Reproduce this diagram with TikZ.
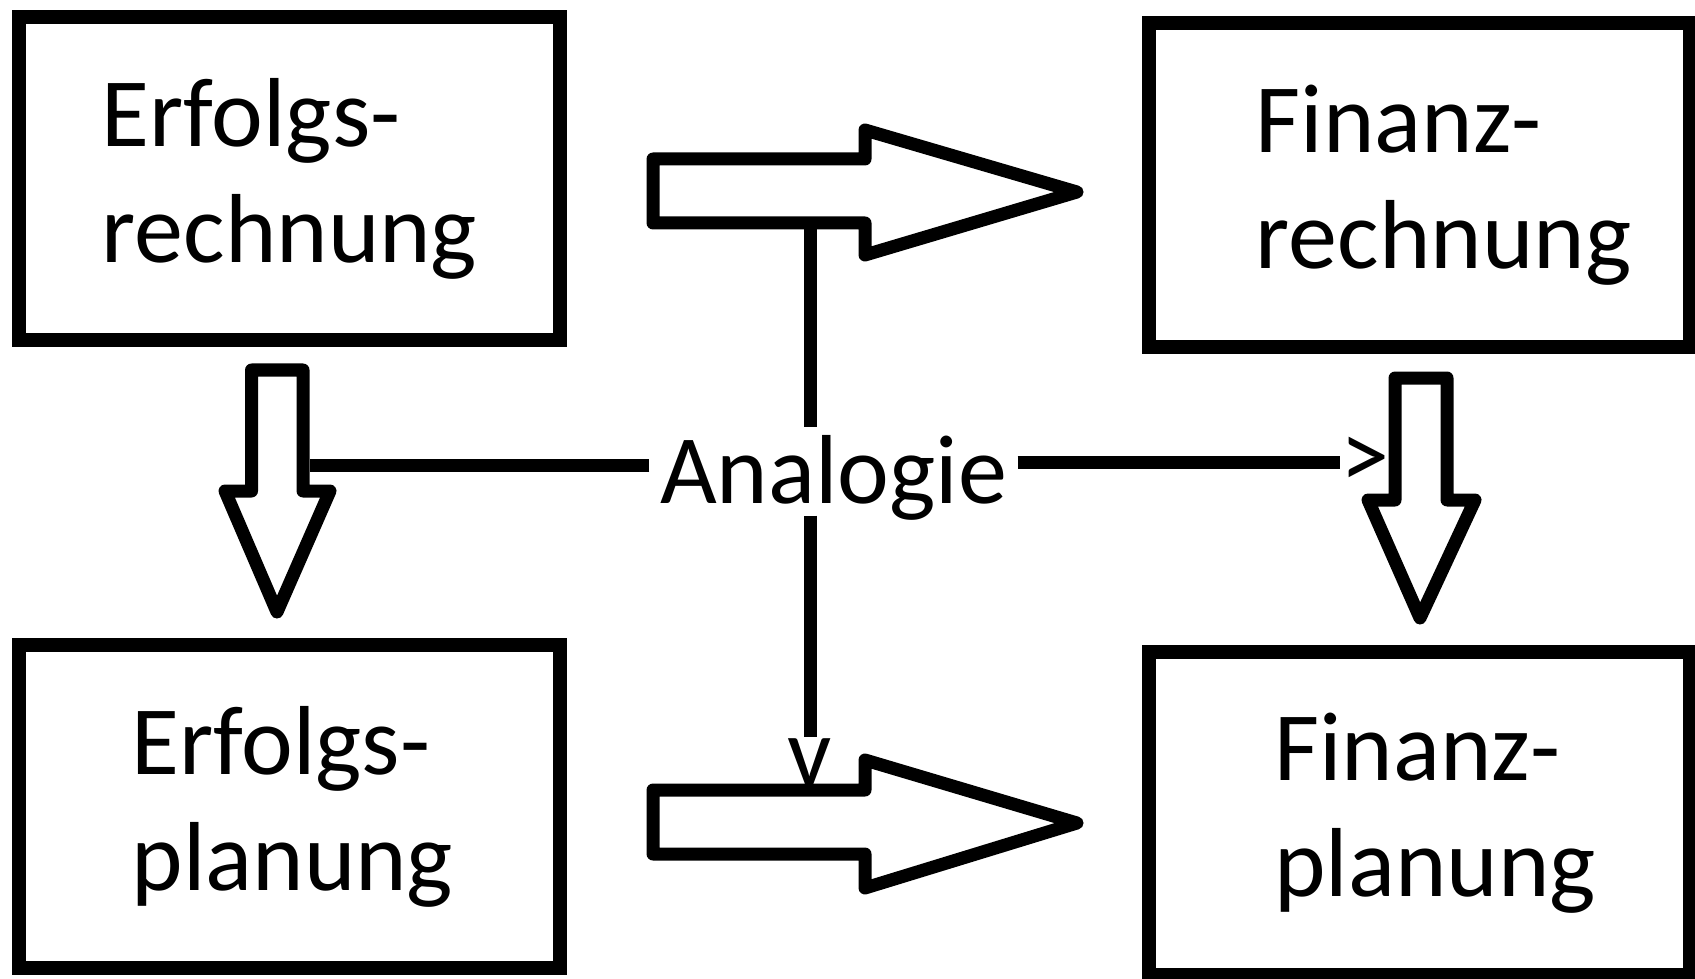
\documentclass[tikz,border=0pt]{standalone}
\usepackage{fontspec}
\setmainfont{Carlito}
\usetikzlibrary{positioning}
\usetikzlibrary{calc}
\tikzstyle{cbox}   = [draw=black, line width=1.4mm, rectangle, minimum width=5.41cm, minimum height=3.23cm, inner sep=0pt]
\tikzstyle{cblock} = [fill=white, draw=black, line width=1.3mm, line join=round]
\tikzstyle{cline}  = [draw=black, line width=1.3mm]
\tikzstyle{ctext}  = [inner sep=0pt, align=left, font=\fontsize{27.9}{33}\selectfont]

\begin{document}
\begin{tikzpicture}
  \useasboundingbox (0,0) rectangle (16.95,9.78);
  \node[cbox] (erfolgsrechnung) at (2.895,7.995) {};
  \node[cbox] (finanzrechnung)  at (14.19,7.93)  {};
  \node[cbox] (erfolgsplanung)  at (2.895,1.715) {};
  \node[cbox] (finanzplanung)   at (14.19,1.65)  {};
  \node[ctext] (erfolgsrechnung-text) at (2.895,7.995) {Erfolgs-\\rechnung};
  \node[ctext] (finanzrechnung-text)  at (14.435,7.93) {Finanz-\\rechnung};
  \node[ctext] (erfolgsplanung-text)  at (2.925,1.715) {Erfolgs-\\planung};
  \node[ctext] (finanzplanung-text)   at (14.35,1.65)  {Finanz-\\planung};
% block arrows
  \filldraw[cblock]
    (6.53,8.19) -- +(2.12,0) -- +(2.12,0.29) -- +(4.24,-0.33) -- +(2.12,-0.96) -- +(2.12,-0.64) -- +(0,-0.64) -- cycle;
  \filldraw[cblock]
    (6.53,1.88) -- +(2.12,0) -- +(2.12,0.30) -- +(4.24,-0.33) -- +(2.12,-0.98) -- +(2.12,-0.64) -- +(0,-0.64) -- cycle;
  \filldraw[cblock]
    (2.515,6.08) -- +(0.515,0) -- +(0.515,-1.21) -- +(0.785,-1.21) -- +(0.255,-2.42) -- +(-0.265,-1.21) -- +(0,-1.21) -- cycle;
  \filldraw[cblock]
    (13.95,6.00) -- +(0.52,0) -- +(0.52,-1.22) -- +(0.80,-1.22) -- +(0.25,-2.40) -- +(-0.27,-1.22) -- +(0,-1.22) -- cycle;
  \coordinate (rfoot) at (8.10,7.55);
  \coordinate (eside) at (3.095,5.13);
% Analogie
  \node[ctext, inner xsep=1mm, text height=7.5mm, text depth=1.2mm, anchor=base] (analogie) at (8.335,4.75) {Analogie};
  \node[ctext, anchor=base] (gt)  at (13.65,4.90) {>};
  \node[ctext, anchor=base] (vee) at (8.10,1.93)  {v};
  \draw[cline] (rfoot) -- (rfoot |- analogie.north);
  \draw[cline] (vee.north |- analogie.south) -- (vee.north);
  \draw[cline] (analogie.west |- eside) -- (eside);
  \draw[cline] (analogie.east |- gt.west) -- (gt.west);
\end{tikzpicture}
\end{document}
